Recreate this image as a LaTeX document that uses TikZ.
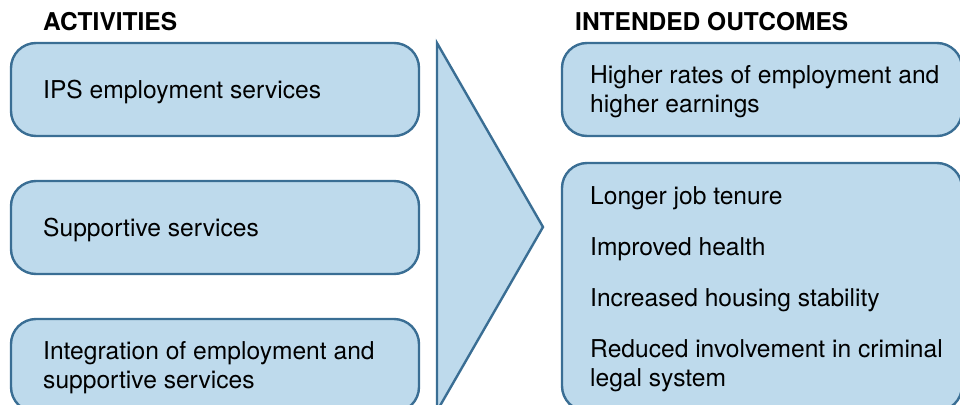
\documentclass[tikz,border=0pt]{standalone}
\usepackage{fontspec}
\setmainfont{TeX Gyre Heros}
\usetikzlibrary{positioning}
\definecolor{my_fill}{RGB}{190, 218, 236}
\definecolor{my_border}{RGB}{58, 110, 148}
\tikzset {
  box/.style = {draw=my_border, line width=2.4pt, fill=my_fill, rounded corners=25pt, rectangle, minimum height=93pt, inner sep=0pt, outer sep=0pt},
  actbox/.style = {box, minimum width=408pt},
  outbox/.style = {box, minimum width=400pt},
  txt/.style = {inner sep=0pt, align=left, yshift=-2pt, font=\fontsize{24.6}{28.5}\selectfont},
  head/.style = {inner sep=0pt, anchor=base west, font=\fontsize{24.5}{28}\selectfont\bfseries},
  chevron/.style = {draw=my_border, line width=2.4pt, fill=my_fill, line join=miter},
}

\begin{document}
\begin{tikzpicture}[x=1pt, y=-1pt]
    \useasboundingbox (0,0) rectangle (960,404);
    \clip (0,0) rectangle (960,404);

    \node[head] (acthead) at (43,31) {ACTIVITIES};
    \node[head] (outhead) at (575,31) {INTENDED OUTCOMES};

    % activities
    \node[actbox] (ips) at (215,89.5) {};
    \node[actbox, below=45pt of ips] (supp) {};
    \node[actbox, below=45pt of supp] (integ) {};
    \node[txt, right=32pt of ips.west] (ipstxt) {IPS employment services};
    \node[txt, right=32pt of supp.west] (supptxt) {Supportive services};
    \node[txt, right=32pt of integ.west] (integtxt) {Integration of employment and\\supportive services};

    % big arrow
    \draw[chevron] (437,43) -- (543,227) -- (437,411) -- cycle;

    % outcomes
    \node[outbox] (earn) at (762,89.5) {};
    \node[outbox, minimum height=248pt, below=27pt of earn] (gain) {};
    \node[txt, right=28pt of earn.west] (earntxt) {Higher rates of employment and\\higher earnings};
    \node[txt, right=28pt of gain.west] (gaintxt) {Longer job tenure\\[22.5pt]
      Improved health\\[22.5pt]
      Increased housing stability\\[22.5pt]
      Reduced involvement in criminal\\legal system};

  \end{tikzpicture}
\end{document}
